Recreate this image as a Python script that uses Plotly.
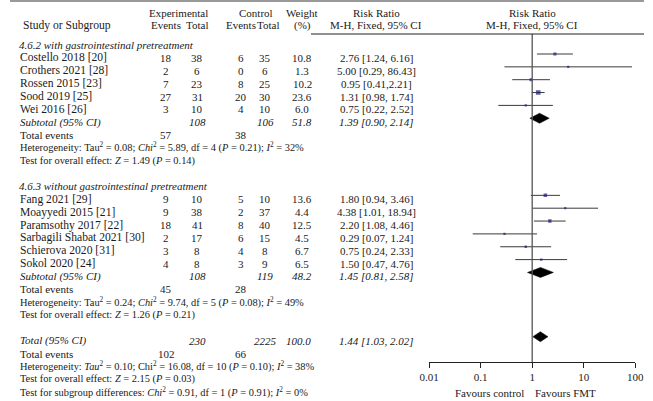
import plotly.graph_objects as go

W, H = 653, 401

# ---------------- data ----------------
g1_studies = ["Costello 2018 [20]", "Crothers 2021 [28]", "Rossen 2015 [23]", "Sood 2019 [25]", "Wei 2016 [26]"]
g1_exp_events = [18, 2, 7, 27, 3]
g1_exp_total = [38, 6, 23, 31, 10]
g1_ctl_events = [6, 0, 8, 20, 4]
g1_ctl_total = [35, 6, 25, 30, 10]
g1_weight = ["10.8", "1.3", "10.2", "23.6", "6.0"]
g1_rr = [2.76, 5.00, 0.95, 1.31, 0.75]
g1_lo = [1.24, 0.29, 0.41, 0.98, 0.22]
g1_hi = [6.16, 86.43, 2.21, 1.74, 2.52]
g1_ci_text = ["2.76 [1.24, 6.16]", "5.00 [0.29, 86.43]", "0.95 [0.41,2.21]", "1.31 [0.98, 1.74]", "0.75 [0.22, 2.52]"]

g2_studies = ["Fang 2021 [29]", "Moayyedi 2015 [21]", "Paramsothy 2017 [22]", "Sarbagili Shabat 2021 [30]",
              "Schierova 2020 [31]", "Sokol 2020 [24]"]
g2_exp_events = [9, 9, 18, 2, 3, 4]
g2_exp_total = [10, 38, 41, 17, 8, 8]
g2_ctl_events = [5, 2, 8, 6, 4, 3]
g2_ctl_total = [10, 37, 40, 15, 8, 9]
g2_weight = ["13.6", "4.4", "12.5", "4.5", "6.7", "6.5"]
g2_rr = [1.80, 4.38, 2.20, 0.29, 0.75, 1.50]
g2_lo = [0.94, 1.01, 1.08, 0.07, 0.24, 0.47]
g2_hi = [3.46, 18.94, 4.46, 1.24, 2.33, 4.76]
g2_ci_text = ["1.80 [0.94, 3.46]", "4.38 [1.01, 18.94]", "2.20 [1.08, 4.46]", "0.29 [0.07, 1.24]",
              "0.75 [0.24, 2.33]", "1.50 [0.47, 4.76]"]

# subtotal / total summaries: [group1, group2, overall]
sum_labels = ["Subtotal (95% CI)", "Subtotal (95% CI)", "Total (95% CI)"]
sum_exp_total = [108, 108, 230]
sum_ctl_total = [106, 119, 2225]
sum_weight = ["51.8", "48.2", "100.0"]
sum_rr = [1.39, 1.45, 1.44]
sum_lo = [0.90, 0.81, 1.03]
sum_hi = [2.14, 2.58, 2.02]
sum_ci_text = ["1.39 [0.90, 2.14]", "1.45 [0.81, 2.58]", "1.44 [1.03, 2.02]"]
sum_exp_events = [57, 45, 102]
sum_ctl_events = [38, 28, 66]
heterogeneity = [
    "Heterogeneity: Tau<sup>2</sup> = 0.08; <i>Chi</i><sup>2</sup> = 5.89, df = 4 (<i>P</i> = 0.21); <i>I</i><sup>2</sup> = 32%",
    "Heterogeneity: Tau<sup>2</sup> = 0.24; <i>Chi</i><sup>2</sup> = 9.74, df = 5 (<i>P</i> = 0.08); <i>I</i><sup>2</sup> = 49%",
    "Heterogeneity: <i>Tau</i><sup>2</sup> = 0.10; Chi<sup>2</sup> = 16.08, df = 10 (<i>P</i> = 0.10); <i>I</i><sup>2</sup> = 38%",
]
overall_effect = [
    "Test for overall effect: <i>Z</i> = 1.49 (<i>P</i> = 0.14)",
    "Test for overall effect: <i>Z</i> = 1.26 (<i>P</i> = 0.21)",
    "Test for overall effect: <i>Z</i> = 2.15 (<i>P</i> = 0.03)",
]
subgroup_test = "Test for subgroup differences: <i>Chi</i><sup>2</sup> = 0.91, df = 1 (<i>P</i> = 0.91); <i>I</i><sup>2</sup> = 0%"
group_titles = ["4.6.2 with gastrointestinal pretreatment", "4.6.3 without gastrointestinal pretreatment"]

tick_vals = [0.01, 0.1, 1, 10, 100]
tick_text = ["0.01", "0.1", "1", "10", "100"]
favours = ["Favours control", "Favours FMT"]

# ---------------- layout helpers ----------------
FONT = "Liberation Serif"
FS = 11
FS_NAME = 11.6
FS_STAT = 10.4
TXT = "#1a1a1a"
ROW0, STEP = 58.0, 12.85
MOFF = -4.0  # marker offset relative to text row

X_NAME, X_EE, X_ET, X_CE, X_CT, X_W, X_RR = 7, 161, 193, 238, 263, 301, 377

annotations = []


def txt(x, y, s, anchor="center", italic=False, size=FS):
    if italic:
        s = "<i>" + s + "</i>"
    annotations.append(dict(x=x / W, y=1 - y / H, xref="paper", yref="paper", text=s, showarrow=False,
                            xanchor=anchor, yanchor="middle", font=dict(family=FONT, size=size, color=TXT)))


def ry(i):
    return ROW0 + STEP * i


# headers
txt(11, 25.5, "Study or Subgroup", "left", size=FS_NAME)
txt(174, 13, "Experimental")
txt(X_EE, 25.5, "Events")
txt(X_ET, 25.5, "Total")
txt(253, 13, "Control")
txt(X_CE, 25.5, "Events")
txt(X_CT + 3, 25.5, "Total")
txt(X_W, 13, "Weight")
txt(X_W, 25.5, "(%)")
txt(X_RR, 13, "Risk Ratio")
txt(X_RR, 25.5, "M-H, Fixed, 95% CI")
txt(538, 13, "Risk Ratio")
txt(538, 25.5, "M-H, Fixed, 95% CI")

groups = [
    (g1_studies, g1_exp_events, g1_exp_total, g1_ctl_events, g1_ctl_total, g1_weight, g1_rr, g1_lo, g1_hi, g1_ci_text),
    (g2_studies, g2_exp_events, g2_exp_total, g2_ctl_events, g2_ctl_total, g2_weight, g2_rr, g2_lo, g2_hi, g2_ci_text),
]

study_rr, study_lo, study_hi, study_y, study_w = [], [], [], [], []
diamonds = []

row = -1
for gi, (names, ee, et, ce, ct, wt, rr, lo, hi, cit) in enumerate(groups):
    txt(X_NAME, ry(row), group_titles[gi], "left", italic=True)
    row += 1
    for k in range(len(names)):
        y = ry(row)
        txt(X_NAME + 1, y, names[k], "left", size=FS_NAME)
        txt(X_EE, y, str(ee[k]))
        txt(X_ET, y, str(et[k]))
        txt(X_CE, y, str(ce[k]))
        txt(X_CT, y, str(ct[k]))
        txt(X_W, y, wt[k])
        txt(X_RR, y, cit[k])
        study_rr.append(rr[k]); study_lo.append(lo[k]); study_hi.append(hi[k])
        study_y.append(y + MOFF); study_w.append(float(wt[k]))
        row += 1
    # subtotal
    y = ry(row)
    txt(X_NAME + 1, y, sum_labels[gi], "left", italic=True)
    txt(X_ET, y, str(sum_exp_total[gi]), italic=True)
    txt(X_CT, y, str(sum_ctl_total[gi]), italic=True)
    txt(X_W, y, sum_weight[gi], italic=True)
    txt(X_RR, y, sum_ci_text[gi], italic=True)
    diamonds.append((sum_lo[gi], sum_rr[gi], sum_hi[gi], y + MOFF))
    row += 1
    y = ry(row)
    txt(X_NAME + 1, y, "Total events", "left")
    txt(X_EE, y, str(sum_exp_events[gi]))
    txt(X_CE, y, str(sum_ctl_events[gi]))
    row += 1
    txt(X_NAME + 1, ry(row), heterogeneity[gi], "left", size=FS_STAT)
    row += 1
    txt(X_NAME + 1, ry(row), overall_effect[gi], "left", size=FS_STAT)
    row += 2

# overall
y = ry(row)
txt(X_NAME + 1, y, sum_labels[2], "left", italic=True)
txt(X_ET, y, str(sum_exp_total[2]), italic=True)
txt(X_CT, y, str(sum_ctl_total[2]), italic=True)
txt(X_W - 4, y, sum_weight[2], italic=True)
txt(X_RR, y, sum_ci_text[2], italic=True)
diamonds.append((sum_lo[2], sum_rr[2], sum_hi[2], y + MOFF))
row += 1
y = ry(row)
txt(X_NAME + 1, y, "Total events", "left")
txt(X_EE, y, str(sum_exp_events[2]))
txt(X_CE, y, str(sum_ctl_events[2]))
row += 1
txt(X_NAME + 1, ry(row), heterogeneity[2], "left", size=FS_STAT)
row += 1
txt(X_NAME + 1, ry(row), overall_effect[2], "left", size=FS_STAT)
row += 1
txt(X_NAME + 1, ry(row), subgroup_test, "left", size=FS_STAT)

# favours labels
txt(494, 393, favours[0])
txt(572, 393, favours[1])

# ---------------- figure ----------------
fig = go.Figure()

# CI lines
cx, cy = [], []
for lo, hi, y in zip(study_lo, study_hi, study_y):
    cx += [lo, hi, None]
    cy += [y, y, None]
fig.add_trace(go.Scatter(x=cx, y=cy, mode="lines", line=dict(color="#3a3a3a", width=1), hoverinfo="skip",
                         showlegend=False))

# squares
fig.add_trace(go.Scatter(x=study_rr, y=study_y, mode="markers",
                         marker=dict(symbol="square", color="#1c1c78",
                                     size=[max(2.2, 0.95 * w ** 0.5) for w in study_w], line=dict(width=0)),
                         showlegend=False, hoverinfo="skip"))

# diamonds
for lo, est, hi, y in diamonds:
    fig.add_trace(go.Scatter(x=[lo, est, hi, est, lo], y=[y, y - 5, y, y + 5, y], mode="lines", fill="toself",
                             fillcolor="black", line=dict(color="black", width=0.5), showlegend=False,
                             hoverinfo="skip"))

PLOT_BOTTOM = 362
fig.update_layout(
    width=W, height=H, margin=dict(l=0, r=0, t=0, b=0),
    paper_bgcolor="white", plot_bgcolor="white",
    annotations=annotations,
    xaxis=dict(type="log", range=[-2, 2], domain=[431.7 / W, 644 / W], tickvals=tick_vals, ticktext=tick_text,
               showline=True, linecolor="#222", linewidth=1, ticks="outside", ticklen=5, tickcolor="#222",
               showgrid=False, zeroline=False, tickfont=dict(family=FONT, size=FS, color=TXT)),
    yaxis=dict(range=[PLOT_BOTTOM, 0], domain=[1 - PLOT_BOTTOM / H, 1], visible=False, showgrid=False,
               zeroline=False),
    shapes=[
        dict(type="line", xref="x", yref="y", x0=1, x1=1, y0=34, y1=PLOT_BOTTOM,
             line=dict(color="#555", width=1.3)),
        dict(type="line", xref="paper", yref="paper", x0=310 / W, x1=1, y0=1 - 34 / H, y1=1 - 34 / H,
             line=dict(color="#222", width=1)),
        dict(type="line", xref="paper", yref="paper", x0=0, x1=1, y0=1 - 1 / H, y1=1 - 1 / H,
             line=dict(color="#999", width=2)),
    ],
)

fig.write_html("out.html", config={"displayModeBar": False},
               post_script="document.body.style.margin='0';document.body.style.overflow='hidden';")
